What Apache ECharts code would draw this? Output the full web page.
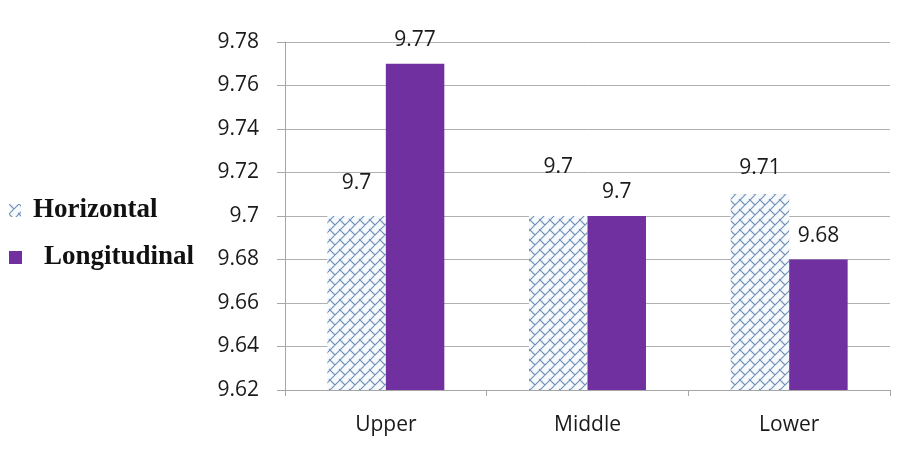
<!DOCTYPE html>
<html lang="en">
<head>
    <meta charset="UTF-8">
    <title>Horizontal vs Longitudinal</title>
    <script src="https://cdn.jsdelivr.net/npm/echarts@6.0.0/dist/echarts.min.js"></script>
    <style>
        html, body { margin: 0; padding: 0; background: #ffffff; }
        #chart { width: 901px; height: 454px; }
    </style>
</head>
<body>
    <div id="chart"></div>
    <script>
        // data
        const categories = ['Upper', 'Middle', 'Lower'];
        const horizontal = [9.70, 9.70, 9.71];
        const longitudinal = [9.77, 9.70, 9.68];
        const yTicks = { min: 9.62, max: 9.78, step: 0.02 };

        // diagonal brick hatch used for the Horizontal bars
        function makeHatch() {
            const c = document.createElement('canvas');
            c.width = 10;
            c.height = 10;
            const g = c.getContext('2d');
            g.fillStyle = '#f7fafd';
            g.fillRect(0, 0, 10, 10);
            g.strokeStyle = '#6f8fb8';
            g.lineWidth = 1.1;
            g.beginPath();
            g.moveTo(-1, 11); g.lineTo(11, -1);
            [[0, 0], [10, 0], [0, 10], [10, 10]].forEach(([dx, dy]) => {
                g.moveTo(dx - 1, dy - 1);
                g.lineTo(dx + 5, dy + 5);
            });
            g.stroke();
            return c;
        }

        const hatch = { image: makeHatch(), repeat: 'repeat' };
        const labelFont = { fontFamily: 'Open Sans', fontSize: 21, color: '#1a1a1a' };
        const legendFont = {
            fontFamily: 'Liberation Serif',
            fontWeight: 'bold',
            fontSize: 27,
            color: '#111111'
        };
        const hGap = [22, 38, 16];

        const chart = echarts.init(document.getElementById('chart'));

        chart.setOption({
            animation: false,
            backgroundColor: '#ffffff',
            grid: { left: 285, right: 11, top: 42, bottom: 64 },
            legend: [
                {
                    orient: 'vertical',
                    left: 4,
                    top: 192,
                    itemWidth: 12,
                    itemHeight: 13,
                    textStyle: Object.assign({ padding: [0, 0, 0, 7] }, legendFont),
                    data: [{ name: 'Horizontal', icon: 'rect' }]
                },
                {
                    orient: 'vertical',
                    left: 4,
                    top: 239,
                    itemWidth: 13,
                    itemHeight: 13,
                    textStyle: Object.assign({ padding: [0, 0, 0, 17] }, legendFont),
                    data: [{ name: 'Longitudinal', icon: 'rect' }]
                }
            ],
            xAxis: {
                type: 'category',
                data: categories,
                axisLine: { lineStyle: { color: '#a6a6a6', width: 1 } },
                axisTick: { show: true, length: 6, lineStyle: { color: '#a6a6a6' } },
                axisLabel: Object.assign({ margin: 25 }, labelFont)
            },
            yAxis: {
                type: 'value',
                min: yTicks.min,
                max: yTicks.max,
                interval: yTicks.step,
                axisLine: { show: true, lineStyle: { color: '#a6a6a6', width: 1 } },
                axisTick: { show: true, length: 8, lineStyle: { color: '#a6a6a6' } },
                axisLabel: Object.assign({ margin: 26 }, labelFont),
                splitLine: { lineStyle: { color: '#b0b0b0', width: 1 } }
            },
            series: [
                {
                    name: 'Horizontal',
                    type: 'bar',
                    barGap: '0%',
                    barCategoryGap: '42%',
                    itemStyle: { color: hatch },
                    label: Object.assign({ show: true, position: 'top' }, labelFont),
                    data: horizontal.map((v, i) => ({
                        value: v,
                        label: { distance: hGap[i] }
                    }))
                },
                {
                    name: 'Longitudinal',
                    type: 'bar',
                    itemStyle: { color: '#7030a0' },
                    label: Object.assign({ show: true, position: 'top', distance: 13 }, labelFont),
                    data: longitudinal
                }
            ]
        });

        window.addEventListener('resize', () => chart.resize());
    </script>
</body>
</html>
